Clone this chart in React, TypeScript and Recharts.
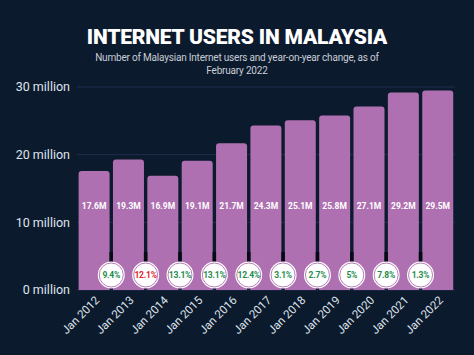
import React from "react";
import { BarChart, Bar, XAxis, YAxis, CartesianGrid, LabelList } from "recharts";

const years = ["Jan 2012", "Jan 2013", "Jan 2014", "Jan 2015", "Jan 2016", "Jan 2017", "Jan 2018", "Jan 2019", "Jan 2020", "Jan 2021", "Jan 2022"];
const users = [17.6, 19.3, 16.9, 19.1, 21.7, 24.3, 25.1, 25.8, 27.1, 29.2, 29.5];
// year-on-year change shown at the left edge of each year's bar (negative = red)
const growth: (number | null)[] = [null, 9.4, -12.1, 13.1, 13.1, 12.4, 3.1, 2.7, 5, 7.8, 1.3];
const yTicks = [0, 10, 20, 30];

const data = years.map((y, i) => ({ year: y, users: users[i], growth: growth[i] }));

const BG = "#0c1a2e";
const BAR = "#ae70b0";

const ValueLabel = (props: any) => {
  const { x, y, width, height, value } = props;
  const bottom = y + height;
  return (
    <text x={x + width / 2} y={bottom - 84} textAnchor="middle" dominantBaseline="central" fill="#ffffff" fontSize={8.5} fontWeight={700} fontFamily="Roboto, sans-serif">
      {`${value}M`}
    </text>
  );
};

const GrowthLabel = (props: any) => {
  const { x, y, width, height, value } = props;
  if (value === null || value === undefined) return null;
  const bottom = y + height;
  const cx = x - 1.7;
  const cy = bottom - 15;
  const neg = value < 0;
  return (
    <g>
      <line x1={cx} x2={cx} y1={cy - 23} y2={cy - 12} stroke="#070a14" strokeWidth={3.5} />
      <circle cx={cx} cy={cy} r={13.5} fill="#ffffff" />
      <circle cx={cx} cy={cy} r={12} fill="none" stroke={BAR} strokeWidth={0.9} />
      <text x={cx} y={cy} textAnchor="middle" dominantBaseline="central" fill={neg ? "#e0222a" : "#1d8c4c"} fontSize={8.5} fontWeight={700} fontFamily="Roboto, sans-serif" letterSpacing={-0.2}>
        {`${Math.abs(value)}%`}
      </text>
    </g>
  );
};

const XTick = (props: any) => {
  const { x, y, payload } = props;
  return (
    <text transform={`translate(${x + 6},${y + 11}) rotate(-45)`} textAnchor="end" fill="#dfe3ea" fontSize={11.5} fontFamily="Roboto, sans-serif">
      {payload.value}
    </text>
  );
};

export default function App() {
  return (
    <div style={{ position: "absolute", left: 0, top: 0, width: 474, height: 355, background: BG, overflow: "hidden" }}>
      <div style={{ position: "absolute", left: 0, width: 474, top: 25, textAlign: "center", color: "#ffffff", fontFamily: "Roboto, sans-serif", fontWeight: 900, fontSize: 21, lineHeight: "24px", letterSpacing: -0.2 }}>
        INTERNET USERS IN MALAYSIA
      </div>
      <div style={{ position: "absolute", left: 0, width: 474, top: 51, textAlign: "center", color: "#c9cdd5", fontFamily: "Roboto, sans-serif", fontSize: 10, lineHeight: "13px", letterSpacing: -0.2, whiteSpace: "nowrap" }}>
        Number of Malaysian Internet users and year-on-year change, as of
        <br />
        February 2022
      </div>
      <div style={{ position: "absolute", left: 0, top: 0 }}>
        <BarChart width={474} height={355} data={data} margin={{ top: 87, right: 19, bottom: 5, left: 0 }} barCategoryGap={1.6}>
          <CartesianGrid vertical={false} stroke="#1f2f4a" strokeWidth={1} />
          <YAxis
            width={77}
            domain={[0, 30]}
            ticks={yTicks}
            axisLine={false}
            tickLine={false}
            tickSize={0}
            tickMargin={7}
            tickFormatter={(v: number) => `${v} million`}
            tick={{ fill: "#dfe3ea", fontSize: 12.5, fontFamily: "Roboto, sans-serif" }}
          />
          <XAxis dataKey="year" height={60} axisLine={false} tickLine={false} tickSize={0} tickMargin={0} interval={0} tick={<XTick />} />
          <Bar dataKey="users" fill={BAR} radius={[3, 3, 0, 0]} isAnimationActive={false}>
            <LabelList dataKey="users" content={<ValueLabel />} />
            <LabelList dataKey="growth" content={<GrowthLabel />} />
          </Bar>
        </BarChart>
      </div>
    </div>
  );
}
